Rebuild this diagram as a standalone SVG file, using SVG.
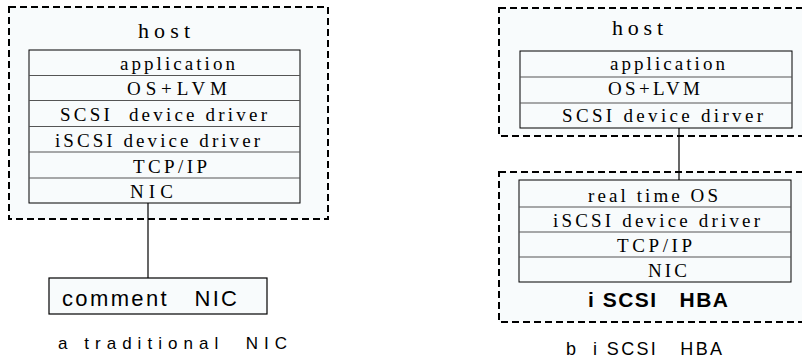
<svg xmlns="http://www.w3.org/2000/svg" width="802" height="360" viewBox="0 0 802 360">
  <style>
    .frame { fill: #f8fbfc; stroke: #000; stroke-width: 2; stroke-dasharray: 7 4; }
    .stack { fill: #f8fbfc; stroke: #000; stroke-width: 1; }
    .sep { stroke: #555; stroke-width: 1.2; }
    .box { fill: #f8fbfc; stroke: #000; stroke-width: 1.2; }
    .link { stroke: #000; stroke-width: 1.2; fill: none; }
    .layer { font-family: "Liberation Serif", "Times New Roman", serif; font-size: 19px; fill: #000; }
    .title { font-family: "Liberation Serif", "Times New Roman", serif; font-size: 22px; fill: #000; }
    .sans { font-family: "Liberation Sans", Arial, sans-serif; fill: #000; }
  </style>

  <!-- (a) traditional NIC -->
  <g id="host-a">
    <rect class="frame" x="9" y="7" width="319" height="212"/>
    <text class="title" x="138" y="38" textLength="52" lengthAdjust="spacing">host</text>
  </g>
  <g id="stack-a">
    <rect class="stack" x="29" y="50" width="271" height="153"/>
    <line class="sep" x1="29" y1="75.5" x2="300" y2="75.5"/>
    <line class="sep" x1="29" y1="100.5" x2="300" y2="100.5"/>
    <line class="sep" x1="29" y1="126.5" x2="300" y2="126.5"/>
    <line class="sep" x1="29" y1="152" x2="300" y2="152"/>
    <line class="sep" x1="29" y1="178" x2="300" y2="178"/>
    <text class="layer" x="120" y="70" textLength="115" lengthAdjust="spacing">application</text>
    <text class="layer" x="127" y="95" textLength="100" lengthAdjust="spacing">OS+LVM</text>
    <text class="layer" x="60" y="121" textLength="207" lengthAdjust="spacing" xml:space="preserve">SCSI  device driver</text>
    <text class="layer" x="55" y="147" textLength="205" lengthAdjust="spacing">iSCSI device driver</text>
    <text class="layer" x="133" y="173" textLength="74" lengthAdjust="spacing">TCP/IP</text>
    <text class="layer" x="130" y="198" textLength="43" lengthAdjust="spacing">NIC</text>
  </g>
  <g id="nic-a">
    <rect class="box" x="49" y="278" width="218" height="36"/>
    <text class="sans" x="62" y="306" font-size="22" textLength="175" lengthAdjust="spacing" xml:space="preserve">comment   NIC</text>
  </g>
  <g id="caption-a">
    <text class="sans" x="58" y="349" font-size="17" textLength="229" lengthAdjust="spacing" xml:space="preserve">a traditional  NIC</text>
  </g>

  <!-- (b) iSCSI HBA -->
  <g id="host-b">
    <rect class="frame" x="499" y="8" width="320" height="128"/>
    <text class="title" x="612" y="35" textLength="51" lengthAdjust="spacing">host</text>
  </g>
  <g id="stack-b">
    <rect class="stack" x="520" y="51" width="272" height="77"/>
    <line class="sep" x1="520" y1="77" x2="792" y2="77"/>
    <line class="sep" x1="520" y1="103" x2="792" y2="103"/>
    <text class="layer" x="610" y="70" textLength="115" lengthAdjust="spacing">application</text>
    <text class="layer" x="608" y="95" textLength="92" lengthAdjust="spacing">OS+LVM</text>
    <text class="layer" x="562" y="122" textLength="201" lengthAdjust="spacing">SCSI device dirver</text>
  </g>
  <g id="hba-b">
    <rect class="frame" x="499" y="172" width="320" height="150"/>
    <rect class="stack" x="519" y="180" width="272" height="102"/>
    <line class="sep" x1="519" y1="207" x2="791" y2="207"/>
    <line class="sep" x1="519" y1="232" x2="791" y2="232"/>
    <line class="sep" x1="519" y1="257" x2="791" y2="257"/>
    <text class="layer" x="588" y="202" textLength="130" lengthAdjust="spacing">real time OS</text>
    <text class="layer" x="553" y="227" textLength="207" lengthAdjust="spacing">iSCSI device driver</text>
    <text class="layer" x="617" y="252" textLength="75" lengthAdjust="spacing">TCP/IP</text>
    <text class="layer" x="648" y="277" textLength="39" lengthAdjust="spacing">NIC</text>
    <text class="sans" x="588" y="307" font-size="21" font-weight="bold" textLength="140" lengthAdjust="spacing" xml:space="preserve">i SCSI   HBA</text>
  </g>
  <g id="caption-b">
    <text class="sans" x="566" y="355" font-size="18" textLength="156" lengthAdjust="spacing" xml:space="preserve">b  i SCSI   HBA</text>
  </g>

  <g id="connectors">
    <line class="link" x1="148" y1="203" x2="148" y2="278"/>
    <line class="link" x1="679" y1="128" x2="679" y2="180"/>
  </g>
</svg>
